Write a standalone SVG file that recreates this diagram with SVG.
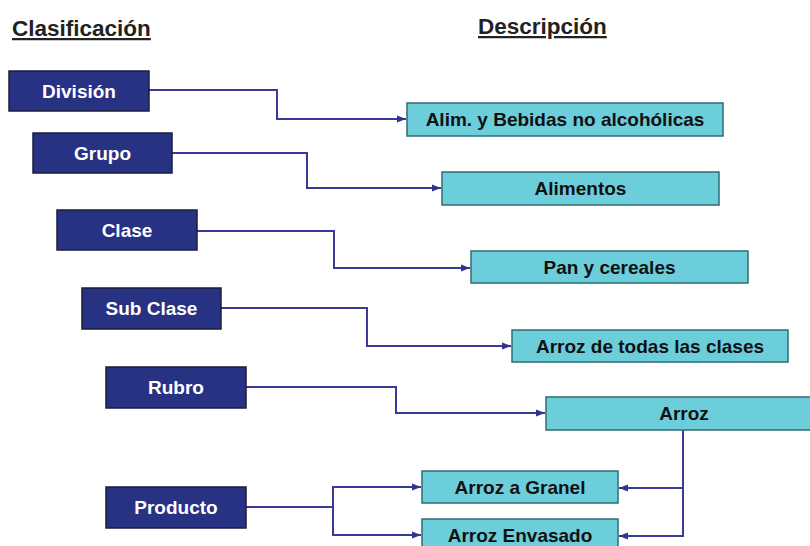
<svg xmlns="http://www.w3.org/2000/svg" width="810" height="546" viewBox="0 0 810 546">
<defs>
<marker id="ah" viewBox="0 0 10 10" refX="10" refY="5" markerWidth="9" markerHeight="9" markerUnits="userSpaceOnUse" orient="auto">
<path d="M0,1 L10,5 L0,9 Z" fill="#33338f"/>
</marker>
</defs>
<style>
.cls rect{fill:#283282;stroke:#1c1c3c;stroke-width:1.5}
.cls text{fill:#ffffff;font-family:"Liberation Sans",Arial,sans-serif;font-weight:bold;font-size:19px;text-anchor:middle}
.desc rect{fill:#6ccddb;stroke:#2f6c72;stroke-width:1.5}
.desc text{fill:#111111;font-family:"Liberation Sans",Arial,sans-serif;font-weight:bold;font-size:19px;text-anchor:middle}
.hdr{fill:#222222;font-family:"Liberation Sans",Arial,sans-serif;font-weight:bold;font-size:22.5px;text-decoration:underline}
#connectors path{fill:none;stroke:#3a3a98;stroke-width:2}
</style>
<rect width="810" height="546" fill="#ffffff"/>
<text class="hdr" x="12" y="36">Clasificación</text>
<text class="hdr" x="478" y="34">Descripción</text>

<g id="connectors">
<path d="M149,90 H277 V119 H406" marker-end="url(#ah)"/>
<path d="M172,153 H307 V188 H441" marker-end="url(#ah)"/>
<path d="M197,231 H334 V268 H470" marker-end="url(#ah)"/>
<path d="M221,308 H367 V346 H511" marker-end="url(#ah)"/>
<path d="M246,387 H396 V413 H545" marker-end="url(#ah)"/>
<path d="M246,507 H333 V487 H421" marker-end="url(#ah)"/>
<path d="M333,507 V535 H421" marker-end="url(#ah)"/>
<path d="M683,430 V488 H619" marker-end="url(#ah)"/>
<path d="M683,488 V536 H619" marker-end="url(#ah)"/>
</g>

<g id="division" class="cls"><rect x="9" y="71" width="140" height="40"/><text x="79" y="98">División</text></g>
<g id="grupo" class="cls"><rect x="33" y="133" width="139" height="40"/><text x="102.5" y="160">Grupo</text></g>
<g id="clase" class="cls"><rect x="57" y="210" width="140" height="40"/><text x="127" y="237">Clase</text></g>
<g id="subclase" class="cls"><rect x="82" y="288" width="139" height="41"/><text x="151.5" y="315">Sub Clase</text></g>
<g id="rubro" class="cls"><rect x="106" y="367" width="140" height="41"/><text x="176" y="394">Rubro</text></g>
<g id="producto" class="cls"><rect x="106" y="487" width="140" height="41"/><text x="176" y="514">Producto</text></g>

<g id="alim" class="desc"><rect x="407" y="103" width="316" height="33"/><text x="565" y="126">Alim. y Bebidas no alcohólicas</text></g>
<g id="alimentos" class="desc"><rect x="442" y="172" width="277" height="33"/><text x="580.5" y="195">Alimentos</text></g>
<g id="pan" class="desc"><rect x="471" y="251" width="277" height="32"/><text x="609.5" y="274">Pan y cereales</text></g>
<g id="arroztodas" class="desc"><rect x="512" y="330" width="276" height="32"/><text x="650" y="353">Arroz de todas las clases</text></g>
<g id="arroz" class="desc"><rect x="546" y="397" width="270" height="33"/><text x="684" y="420">Arroz</text></g>
<g id="granel" class="desc"><rect x="422" y="471" width="196" height="32"/><text x="520" y="494">Arroz a Granel</text></g>
<g id="envasado" class="desc"><rect x="422" y="519" width="196" height="32"/><text x="520" y="542">Arroz Envasado</text></g>
</svg>
